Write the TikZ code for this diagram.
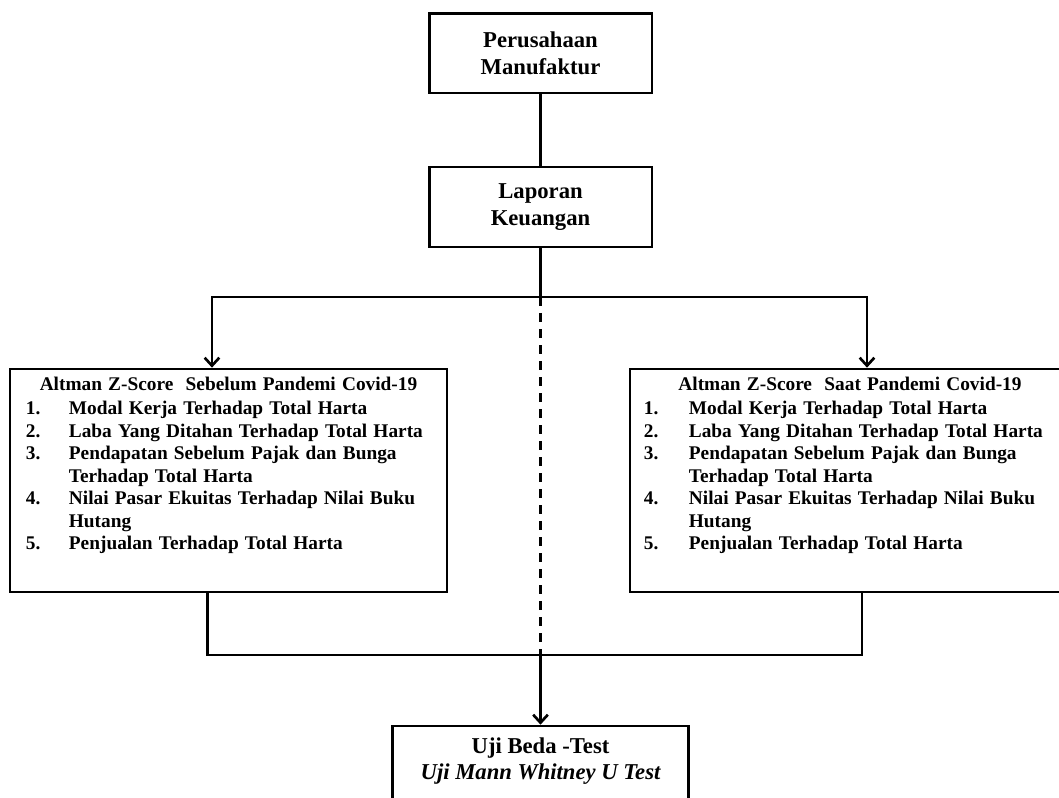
\documentclass[tikz,border=0pt]{standalone}
\usepackage{fontspec}
\setmainfont{Liberation Serif}
\usetikzlibrary{arrows.meta}

\newcommand\listfont{\fontsize{14.5}{16.9}\selectfont\bfseries\spaceskip=0.32em plus 0.1em\relax}

\tikzset{
  box/.style={draw, line width=2pt, inner sep=0pt, align=center,
    font=\fontsize{17}{20.25}\selectfont\bfseries},
  link/.style={line width=2pt},
  arr/.style={link, -{Straight Barb[length=6pt,width=11pt]}},
  listtext/.style={inner sep=0pt, font=\listfont}
}

\begin{document}
\begin{tikzpicture}[x=0.75pt,y=-0.75pt]
    \useasboundingbox (0,0) rectangle (1059,798);

    % kotak atas
    \node[box, minimum width=167pt, minimum height=59.5pt] (peru) at (540.5,53.5) {Perusahaan\\Manufaktur};
    \node[box, minimum width=167pt, minimum height=60pt] (lap) at (540.5,207) {Laporan\\Keuangan};

    % kotak Altman
    \node[box, minimum width=327.75pt, minimum height=167.25pt] (sebelum) at (228.5,480.5) {};
    \node[box, minimum width=330pt, minimum height=167.25pt] (saat) at (850,480.5) {};

    \node[listtext, anchor=north] (sebelumjudul) at ([yshift=-6.5pt]sebelum.north) {Altman Z-Score\ \ Sebelum Pandemi Covid-19};
    \node[listtext, anchor=north west] (sebelumisi) at ([xshift=12.75pt,yshift=-23.3pt]sebelum.north west) {%
      \begin{tabular}{@{}p{32.25pt}@{}l@{}}
        1. & Modal Kerja Terhadap Total Harta\\
        2. & Laba Yang Ditahan Terhadap Total Harta\\
        3. & Pendapatan Sebelum Pajak dan Bunga\\
           & Terhadap Total Harta\\
        4. & Nilai Pasar Ekuitas Terhadap Nilai Buku\\
           & Hutang\\
        5. & Penjualan Terhadap Total Harta
      \end{tabular}};

    \node[listtext, anchor=north] (saatjudul) at ([yshift=-6.5pt]saat.north) {Altman Z-Score\ \ Saat Pandemi Covid-19};
    \node[listtext, anchor=north west] (saatisi) at ([xshift=11.25pt,yshift=-23.3pt]saat.north west) {%
      \begin{tabular}{@{}p{33.75pt}@{}l@{}}
        1. & Modal Kerja Terhadap Total Harta\\
        2. & Laba Yang Ditahan Terhadap Total Harta\\
        3. & Pendapatan Sebelum Pajak dan Bunga\\
           & Terhadap Total Harta\\
        4. & Nilai Pasar Ekuitas Terhadap Nilai Buku\\
           & Hutang\\
        5. & Penjualan Terhadap Total Harta
      \end{tabular}};

    % kotak uji (bagian bawah terpotong)
    \node[box, minimum width=222pt, minimum height=75pt] (uji) at (540.5,776) {};
    \node[inner sep=0pt, align=center, anchor=north, font=\fontsize{17}{19.5}\selectfont\bfseries] (ujitxt) at ([yshift=-9.75pt]uji.north)
      {Uji Beda -Test\\\itshape Uji Mann Whitney U Test};

    % garis penghubung
    \coordinate (cabang) at (540.5,297);
    \coordinate (gabung) at (540.5,655);

    \draw[link] (peru.south) -- (lap.north);
    \draw[link] (lap.south) -- (cabang);
    \draw[arr] (cabang) -| ([xshift=-12.4pt]sebelum.north);
    \draw[arr] (cabang) -| ([xshift=12.75pt]saat.north);
    \draw[link, dash pattern=on 6.75pt off 5.25pt] (cabang) -- (gabung);
    \draw[link] ([xshift=-16pt]sebelum.south) |- (gabung);
    \draw[link] ([xshift=9pt]saat.south) |- (gabung);
    \draw[arr] (gabung) -- (uji.north);
\end{tikzpicture}
\end{document}
